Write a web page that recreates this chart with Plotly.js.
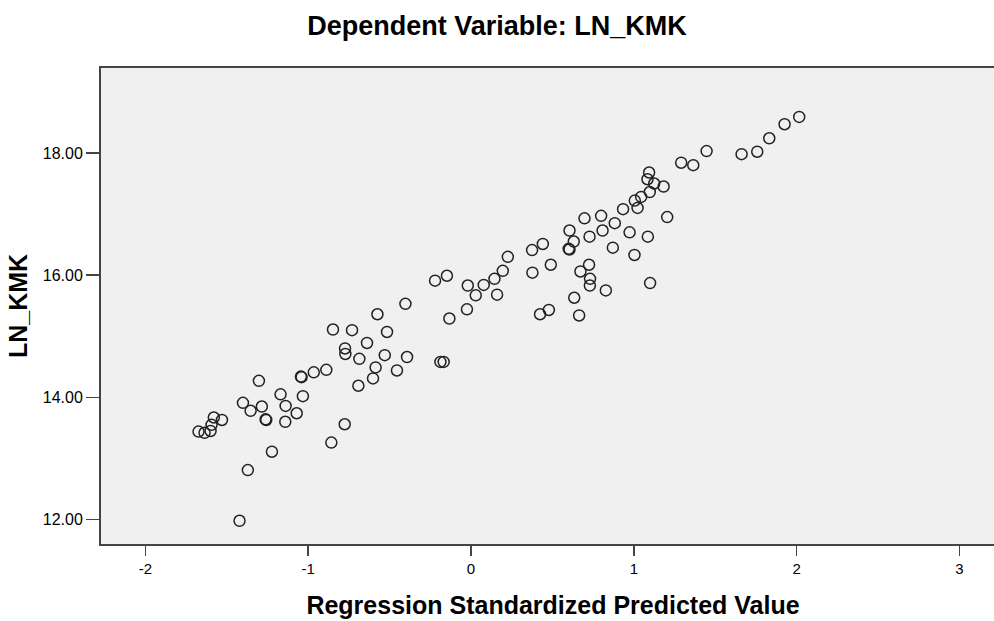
<!DOCTYPE html>
<html>
<head>
<meta charset="utf-8">
<script src="https://cdn.plot.ly/plotly-3.0.1.min.js"></script>
<style>
html, body { margin: 0; padding: 0; overflow: hidden; background: #ffffff; }
#chart { width: 1010px; height: 621px; }
</style>
</head>
<body>
<div id="chart"></div>
<script>
// Regression Standardized Predicted Value
var predicted = [
  2.016, 1.926, 1.832, 1.662, 1.758, 1.447, 1.291, 1.365, 1.094, 1.084,
  1.125, 1.183, 1.098, 1.045, 1.006, 1.023, 0.934, 1.205, 0.799, 0.697,
  0.883, 0.808, 0.974, 1.086, 0.728, 0.605, 0.631, 0.605, 0.600, 0.871,
  1.004, 0.725, 0.672, 0.731, 0.730, 0.828, 1.100, 0.634, 0.664, 0.478,
  0.424, 0.375, 0.441, 0.377, 0.490, 0.226, 0.195, 0.144, 0.078, -0.020,
  0.029, 0.160, -0.025, -0.133, -0.148, -0.221, -0.403, -0.575, -0.516, -0.848,
  -0.731, -0.639, -0.774, -0.772, -0.686, -0.530, -0.393, -0.586, -0.455, -0.602,
  -0.692, -0.188, -0.168, -0.889, -0.966, -1.041, -1.045, -1.033, -1.170, -1.303,
  -1.401, -1.285, -1.354, -1.139, -1.071, -1.258, -1.262, -1.141, -0.776, -0.858,
  -1.223, -1.371, -1.422, -1.674, -1.637, -1.600, -1.594, -1.580, -1.530
];
// LN_KMK
var lnKmk = [
  18.59, 18.47, 18.24, 17.98, 18.02, 18.03, 17.84, 17.80, 17.68, 17.57,
  17.50, 17.45, 17.36, 17.28, 17.22, 17.10, 17.08, 16.95, 16.97, 16.93,
  16.85, 16.73, 16.70, 16.63, 16.63, 16.73, 16.55, 16.42, 16.43, 16.45,
  16.33, 16.17, 16.06, 15.94, 15.83, 15.75, 15.87, 15.63, 15.34, 15.43,
  15.36, 16.41, 16.51, 16.04, 16.17, 16.30, 16.07, 15.94, 15.84, 15.83,
  15.67, 15.68, 15.44, 15.29, 15.99, 15.91, 15.53, 15.36, 15.07, 15.11,
  15.10, 14.89, 14.80, 14.71, 14.63, 14.69, 14.66, 14.49, 14.44, 14.31,
  14.19, 14.58, 14.58, 14.45, 14.41, 14.33, 14.34, 14.02, 14.05, 14.27,
  13.91, 13.85, 13.78, 13.86, 13.74, 13.63, 13.64, 13.60, 13.56, 13.26,
  13.11, 12.81, 11.98, 13.44, 13.42, 13.45, 13.55, 13.67, 13.63
];
var xTickVals = [-2, -1, 0, 1, 2, 3];
var xTickText = ['-2', '-1', '0', '1', '2', '3'];
var yTickVals = [12, 14, 16, 18];
var yTickText = ['12.00', '14.00', '16.00', '18.00'];

var FONT = 'Liberation Sans, Arial, sans-serif';

var trace = {
  type: 'scatter',
  mode: 'markers',
  x: predicted,
  y: lnKmk,
  marker: {
    symbol: 'circle-open',
    size: 11,
    color: '#222222',
    line: { width: 1.5, color: '#222222' }
  },
  hoverinfo: 'x+y'
};

var layout = {
  width: 1010,
  height: 621,
  margin: { l: 101, r: 5, t: 68, b: 77 },
  paper_bgcolor: '#ffffff',
  plot_bgcolor: '#f0f0f0',
  showlegend: false,
  font: { family: FONT, color: '#000000' },
  title: {
    text: 'Dependent Variable: LN_KMK',
    font: { family: FONT, size: 27, weight: 'bold', color: '#000000' },
    xref: 'container', x: 497 / 1010, xanchor: 'center',
    yref: 'container', y: 1 - 26 / 621, yanchor: 'middle'
  },
  xaxis: {
    range: [-2.273, 3.28],
    tickmode: 'array',
    tickvals: xTickVals,
    ticktext: xTickText,
    ticks: 'outside',
    ticklen: 10,
    tickwidth: 1.5,
    tickcolor: '#444444',
    tickfont: { family: FONT, size: 15, color: '#000000' },
    showgrid: false,
    zeroline: false,
    showline: true,
    linecolor: '#444444',
    linewidth: 2,
    mirror: true,
    automargin: false,
    title: {
      text: 'Regression Standardized Predicted Value',
      font: { family: FONT, size: 25, weight: 'bold', color: '#000000' },
      standoff: 20
    }
  },
  yaxis: {
    range: [11.60, 19.39],
    tickmode: 'array',
    tickvals: yTickVals,
    ticktext: yTickText,
    ticks: 'outside',
    ticklen: 13,
    tickwidth: 1.5,
    tickcolor: '#444444',
    tickfont: { family: FONT, size: 16, color: '#000000' },
    showgrid: false,
    zeroline: false,
    showline: true,
    linecolor: '#444444',
    linewidth: 2,
    mirror: true,
    automargin: false,
    title: {
      text: 'LN_KMK',
      font: { family: FONT, size: 25, weight: 'bold', color: '#000000' },
      standoff: 8
    }
  }
};

Plotly.newPlot('chart', [trace], layout, { displayModeBar: false, staticPlot: true });
</script>
</body>
</html>
